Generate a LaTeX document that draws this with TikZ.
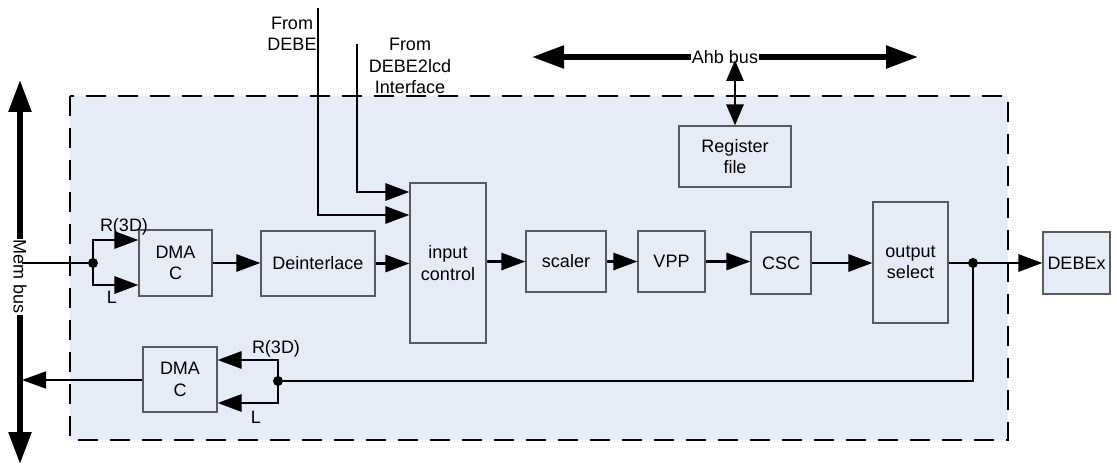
\documentclass[tikz,border=0pt]{standalone}
\usepackage{fontspec}
\setmainfont{Liberation Sans}
\usetikzlibrary{arrows.meta}
\definecolor{bg}{HTML}{E6ECF7}
\definecolor{bord}{HTML}{5A5A5A}
\begin{document}
\begin{tikzpicture}[x=1pt,y=-1pt,
  every node/.style={font=\fontsize{18}{21.5}\selectfont, inner sep=0pt},
  blk/.style={draw=bord, line width=1.1pt, fill=bg, align=center},
  sig/.style={line width=2.8pt, -{Triangle[length=24pt,width=17pt]}},
  thinsig/.style={line width=1.8pt, -{Triangle[length=24pt,width=17pt]}},
  wire/.style={line width=2.8pt},
  thinwire/.style={line width=1.8pt},
  bus/.style={line width=5.5pt, {Triangle[length=32pt,width=22pt]}-{Triangle[length=32pt,width=22pt]}},
  regbus/.style={line width=2.8pt, {Triangle[length=21pt,width=17pt]}-{Triangle[length=21pt,width=17pt]}},
  jdot/.style={circle, fill=black, minimum size=10pt},
  lbl/.style={align=center}
]
\useasboundingbox (0,0) rectangle (1117,473);
% dashed region
\draw[line width=2.4pt, dash pattern=on 20pt off 12pt, fill=bg] (70,96) rectangle (1008,440);

% boxes
\node[blk, minimum width=73pt, minimum height=66pt] (dma1) at (175.5,263) {DMA\\C};
\node[blk, minimum width=114pt, minimum height=65pt] (deint) at (318,263.5) {Deinterlace};
\node[blk, minimum width=76pt, minimum height=160pt] (inctl) at (448,263) {input\\control};
\node[blk, minimum width=80pt, minimum height=61pt] (scaler) at (566,261.5) {scaler};
\node[blk, minimum width=67pt, minimum height=61pt] (vpp) at (671.5,261.5) {VPP};
\node[blk, minimum width=60pt, minimum height=62pt] (csc) at (781,263) {CSC};
\node[blk, minimum width=75pt, minimum height=121pt] (outsel) at (910.5,262.5) {output\\select};
\node[blk, minimum width=67pt, minimum height=62pt] (debex) at (1076.5,263) {DEBEx};
\node[blk, minimum width=112pt, minimum height=61pt] (reg) at (735,156.5) {Register\\file};
\node[blk, minimum width=74pt, minimum height=65pt] (dma2) at (180,379.5) {DMA\\C};

% Mem bus
\coordinate (mtop) at (20,80);
\coordinate (mbot) at (20,464);
\draw[bus] (mtop) -- (mbot);
\node[fill=white, rotate=-90, inner sep=1pt] (memlbl) at (20,277) {Mem bus};

% Ahb bus
\coordinate (aleft) at (532,57);
\coordinate (aright) at (918,57);
\draw[bus] (aleft) -- (aright);
\node[fill=white, inner sep=1pt] (ahblbl) at (725,57) {Ahb bus};
\coordinate (ahbtap) at (735,60);
\draw[regbus] (ahbtap) -- (reg.north);

% input from mem bus to DMAC 1
\coordinate (m1) at (22,263);
\node[jdot] (d1) at (93,263) {};
\draw[thinwire] (m1) -- (d1);
\draw[sig] (d1.center) |- ([yshift=23pt]dma1.west);
\draw[sig] (d1.center) |- ([yshift=-22pt]dma1.west);
\node (r1) at (124,227) {R(3D)};
\node (l1) at (112,297) {L};

% main chain
\draw[sig] (dma1.east) -- (dma1.east -| deint.west);
\draw[sig] (deint.east) -- (deint.east -| inctl.west);
\draw[sig] (inctl.east |- scaler.west) -- (scaler.west);
\draw[sig] (scaler.east) -- (vpp.west);
\draw[sig] (vpp.east) -- (vpp.east -| csc.west);
\draw[sig] (csc.east) -- (csc.east -| outsel.west);
\node[jdot] (d2) at (973,263) {};
\draw[wire] (outsel.east |- d2) -- (d2.center);
\draw[sig] (d2.center) -- (d2.center -| debex.west);

% From DEBE / DEBE2lcd
\coordinate (fdebe) at (318,8);
\coordinate (flcd) at (357,44);
\draw[sig] (fdebe) |- ([yshift=48pt]inctl.west);
\draw[sig] (flcd) |- ([yshift=71pt]inctl.west);
\node[lbl] (tdebe) at (292,34) {From\\DEBE};
\node[lbl] (tlcd) at (410,66) {From\\DEBE2lcd\\Interface};

% write-back path
\node[jdot] (d3) at (278,381) {};
\draw[wire] (d2.center) |- (d3.center);
\draw[sig] (d3.center) |- ([yshift=19.5pt]dma2.east);
\draw[sig] (d3.center) |- ([yshift=-23.5pt]dma2.east);
\node (r2) at (276,349) {R(3D)};
\node (l2) at (256,417) {L};
\coordinate (m2) at (22,380);
\draw[thinsig] (dma2.west |- m2) -- (m2);
\end{tikzpicture}
\end{document}
